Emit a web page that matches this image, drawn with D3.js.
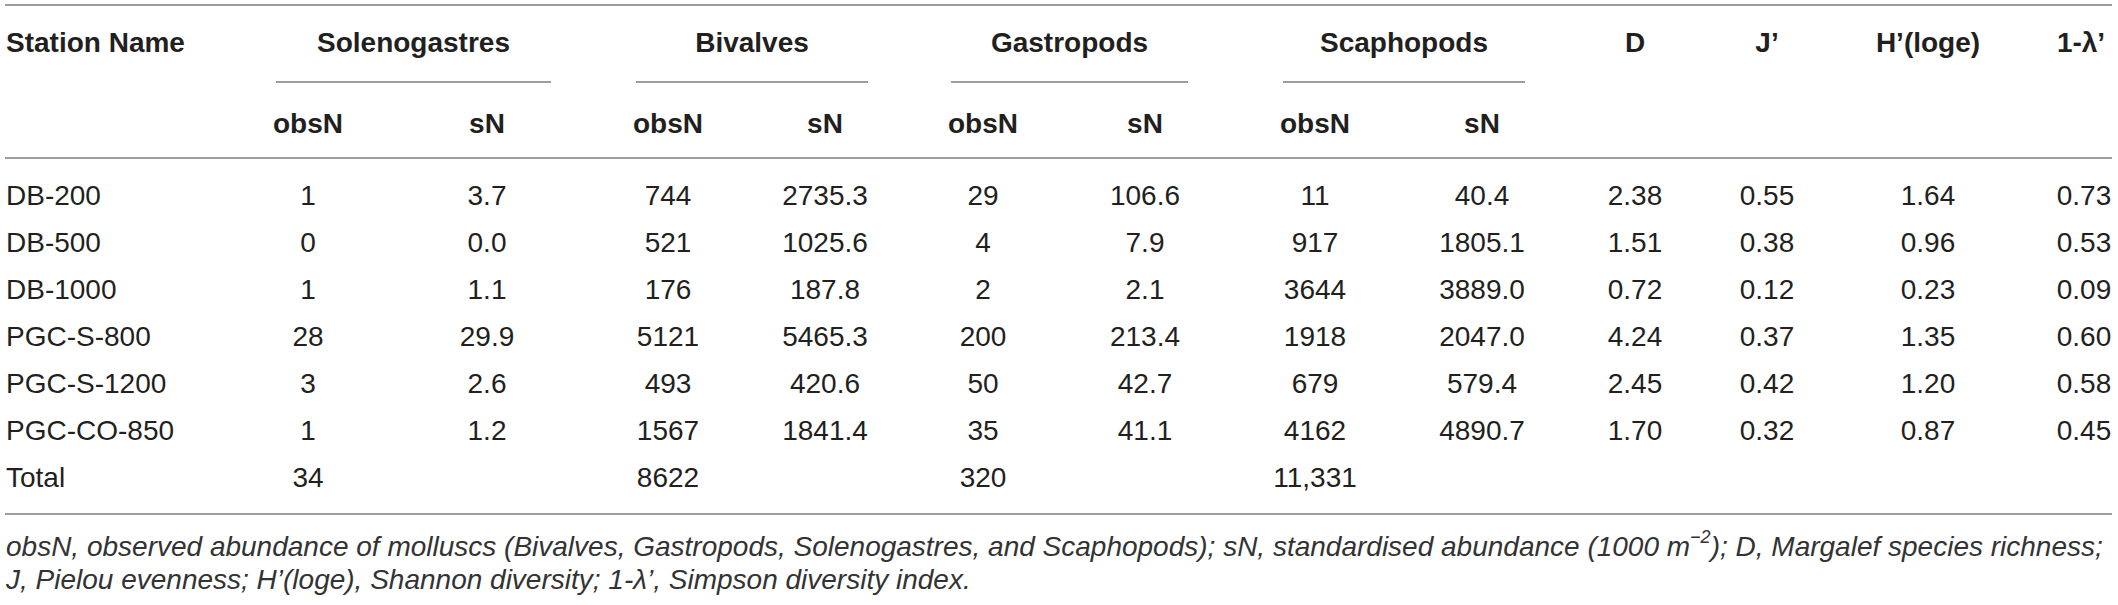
<!DOCTYPE html>
<html>
<head>
<meta charset="utf-8">
<script src="https://cdn.jsdelivr.net/npm/d3@7"></script>
<style>
  body { margin: 0; background: #fff; }
  svg { display: block; font-family: "Liberation Sans", Arial, sans-serif; }
</style>
</head>
<body>
<div id="table"></div>
<script>
// table values
var stations = ['DB-200', 'DB-500', 'DB-1000', 'PGC-S-800', 'PGC-S-1200', 'PGC-CO-850'];
var groups = ['Solenogastres', 'Bivalves', 'Gastropods', 'Scaphopods'];
var solObs = [1, 0, 1, 28, 3, 1];
var solSN = [3.7, 0.0, 1.1, 29.9, 2.6, 1.2];
var bivObs = [744, 521, 176, 5121, 493, 1567];
var bivSN = [2735.3, 1025.6, 187.8, 5465.3, 420.6, 1841.4];
var gasObs = [29, 4, 2, 200, 50, 35];
var gasSN = [106.6, 7.9, 2.1, 213.4, 42.7, 41.1];
var scaObs = [11, 917, 3644, 1918, 679, 4162];
var scaSN = [40.4, 1805.1, 3889.0, 2047.0, 579.4, 4890.7];
var margalefD = [2.38, 1.51, 0.72, 4.24, 2.45, 1.70];
var pielouJ = [0.55, 0.38, 0.12, 0.37, 0.42, 0.32];
var shannonH = [1.64, 0.96, 0.23, 1.35, 1.20, 0.87];
var simpson = [0.73, 0.53, 0.09, 0.60, 0.58, 0.45];
var totals = ['34', '8622', '320', '11,331'];
var indexLabels = ['D', 'J\u2019', 'H\u2019(loge)', '1-\u03bb\u2019'];

// layout
var width = 2118, height = 605,
    left = 5, right = 2112,
    fontSize = 28,
    ink = '#231f20', rule = '#7d7d7d';

var colKeys = ['solObs', 'solSN', 'bivObs', 'bivSN', 'gasObs', 'gasSN',
               'scaObs', 'scaSN', 'D', 'J', 'H', 'S'];
// column widths (centre-to-centre) starting after the station column
var colWidths = [308, 179, 181, 157, 158, 162, 170, 167, 153, 132, 161, 156];
var colCenters = d3.cumsum(colWidths);

var x = d3.scaleOrdinal().domain(colKeys).range(colCenters);
var y = d3.scalePoint().domain(stations.concat(['Total'])).range([195, 477]);

var columns = {
  solObs: solObs, solSN: solSN, bivObs: bivObs, bivSN: bivSN,
  gasObs: gasObs, gasSN: gasSN, scaObs: scaObs, scaSN: scaSN,
  D: margalefD, J: pielouJ, H: shannonH, S: simpson
};
var fmt = {
  solObs: d3.format('d'), bivObs: d3.format('d'), gasObs: d3.format('d'), scaObs: d3.format('d'),
  solSN: d3.format('.1f'), bivSN: d3.format('.1f'), gasSN: d3.format('.1f'), scaSN: d3.format('.1f'),
  D: d3.format('.2f'), J: d3.format('.2f'), H: d3.format('.2f'), S: d3.format('.2f')
};

var svg = d3.select('#table')
  .append('svg')
  .attr('width', width)
  .attr('height', height);

function hline(y0, x0, x1) {
  svg.append('line')
    .attr('x1', x0).attr('x2', x1)
    .attr('y1', y0).attr('y2', y0)
    .style('stroke', rule)
    .style('stroke-width', 1.6);
}

// rules
hline(5, left, right);
hline(158, left, right);
hline(514, left, right);

// header row 1
var header = svg.append('g')
  .style('font-weight', 'bold')
  .style('font-size', fontSize + 'px')
  .style('fill', ink);

header.append('text')
  .attr('x', left + 1)
  .attr('y', 42)
  .attr('dy', '0.36em')
  .text('Station Name');

var groupObs = ['solObs', 'bivObs', 'gasObs', 'scaObs'],
    groupSN = ['solSN', 'bivSN', 'gasSN', 'scaSN'];

groups.forEach(function(g, i) {
  var x0 = x(groupObs[i]) - 32,
      x1 = x(groupSN[i]) + (i === 0 ? 64 : 43);
  header.append('text')
    .attr('x', (x0 + x1) / 2)
    .attr('y', 42)
    .attr('dy', '0.36em')
    .attr('text-anchor', 'middle')
    .text(g);
  hline(82, x0, x1);

  header.append('text')
    .attr('x', x(groupObs[i]))
    .attr('y', 123)
    .attr('dy', '0.36em')
    .attr('text-anchor', 'middle')
    .text('obsN');
  header.append('text')
    .attr('x', x(groupSN[i]))
    .attr('y', 123)
    .attr('dy', '0.36em')
    .attr('text-anchor', 'middle')
    .text('sN');
});

['D', 'J', 'H', 'S'].forEach(function(k, i) {
  header.append('text')
    .attr('x', x(k) - (k === 'S' ? 3 : 0))
    .attr('y', 42)
    .attr('dy', '0.36em')
    .attr('text-anchor', 'middle')
    .text(indexLabels[i]);
});

// body
var body = svg.append('g')
  .style('font-size', fontSize + 'px')
  .style('fill', ink);

body.selectAll('text.station')
  .data(stations.concat(['Total']))
  .enter()
  .append('text')
  .attr('class', 'station')
  .attr('x', left + 1)
  .attr('y', function(d) { return y(d); })
  .attr('dy', '0.36em')
  .text(function(d) { return d; });

colKeys.forEach(function(k) {
  body.selectAll('text.' + k)
    .data(columns[k])
    .enter()
    .append('text')
    .attr('class', k)
    .attr('x', x(k))
    .attr('y', function(d, i) { return y(stations[i]); })
    .attr('dy', '0.36em')
    .attr('text-anchor', 'middle')
    .text(function(d) { return fmt[k](d); });
});

body.selectAll('text.total')
  .data(totals)
  .enter()
  .append('text')
  .attr('class', 'total')
  .attr('x', function(d, i) { return x(groupObs[i]); })
  .attr('y', y('Total'))
  .attr('dy', '0.36em')
  .attr('text-anchor', 'middle')
  .text(function(d) { return d; });

// footnote
var note = svg.append('g')
  .style('font-size', '28px')
  .style('font-style', 'italic')
  .style('fill', '#333');

var n1 = note.append('text')
  .attr('x', left + 1)
  .attr('y', 546)
  .attr('dy', '0.36em');
n1.append('tspan').text('obsN, observed abundance of molluscs (Bivalves, Gastropods, Solenogastres, and Scaphopods); sN, standardised abundance (1000 m');
n1.append('tspan').attr('dy', '-0.7em').style('font-size', '18px').text('\u22122');
n1.append('tspan').attr('dy', '0.45em').text('); D, Margalef species richness;');

note.append('text')
  .attr('x', left + 1)
  .attr('y', 579)
  .attr('dy', '0.36em')
  .text('J, Pielou evenness; H\u2019(loge), Shannon diversity; 1-\u03bb\u2019, Simpson diversity index.');
</script>
</body>
</html>
